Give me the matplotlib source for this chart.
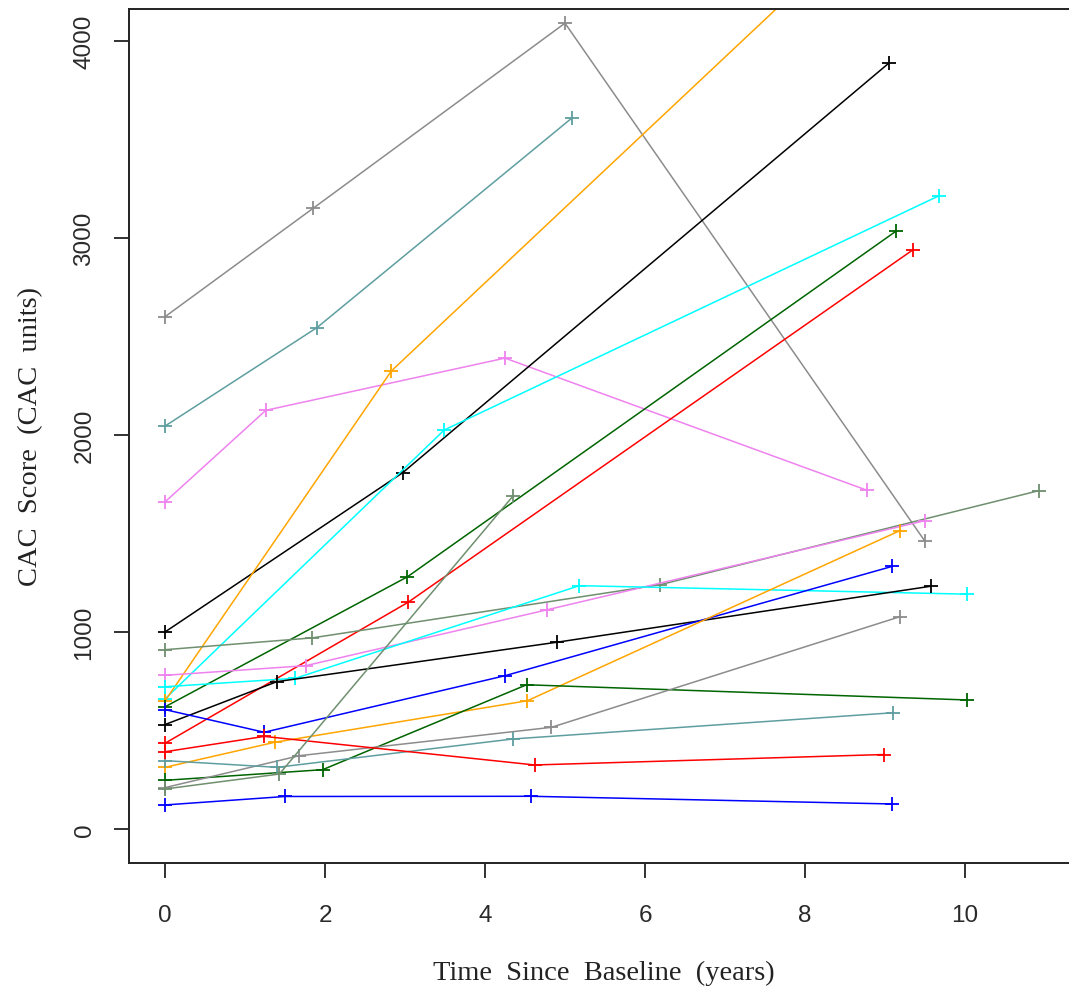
import matplotlib
matplotlib.use("Agg")
import matplotlib.pyplot as plt

# follow-up time (years) and CAC score for each subject
t01 = [0, 1.85, 5.0, 9.5]
c01 = [2600, 3150, 4090, 1460]
t02 = [0, 1.9, 5.09]
c02 = [2045, 2545, 3610]
t03 = [0, 1.26, 4.25, 8.77]
c03 = [1660, 2125, 2390, 1720]
t04 = [0, 2.97, 9.05]
c04 = [1000, 1808, 3888]
t05 = [0, 3.49, 9.68]
c05 = [660, 2025, 3215]
t06 = [0, 2.83, 9.1]
c06 = [650, 2325, 4720]
t07 = [0, 3.03, 9.14]
c07 = [620, 1280, 3035]
t08 = [0, 3.04, 9.35]
c08 = [435, 1151, 2940]
t09 = [0, 1.84, 6.19, 10.92]
c09 = [910, 970, 1240, 1717]
t10 = [0, 1.76, 4.77, 9.5]
c10 = [780, 829, 1112, 1565]
t11 = [0, 1.63, 5.18, 10.02]
c11 = [722, 765, 1235, 1192]
t12 = [0, 1.40, 4.9, 9.57]
c12 = [530, 748, 948, 1232]
t13 = [0, 1.24, 4.25, 9.09]
c13 = [606, 491, 778, 1333]
t14 = [0, 1.37, 4.53, 9.19]
c14 = [313, 440, 651, 1515]
t15 = [0, 1.97, 4.52, 10.02]
c15 = [247, 301, 732, 655]
t16 = [0, 1.68, 4.83, 9.19]
c16 = [210, 372, 516, 1078]
t17 = [0, 1.4, 4.35, 9.1]
c17 = [347, 313, 457, 590]
t18 = [0, 1.24, 4.62, 8.99]
c18 = [392, 470, 325, 378]
t19 = [0, 1.43, 4.35]
c19 = [203, 279, 1690]
t20 = [0, 1.5, 4.58, 9.09]
c20 = [122, 165, 166, 127]

times = [t01, t02, t03, t04, t05, t06, t07, t08, t09, t10,
         t11, t12, t13, t14, t15, t16, t17, t18, t19, t20]
scores = [c01, c02, c03, c04, c05, c06, c07, c08, c09, c10,
          c11, c12, c13, c14, c15, c16, c17, c18, c19, c20]
colours = ["#8c8c8c", "#5f9ea0", "#ee82ee", "black", "cyan", "orange", "#006400", "red", "#6f8f6f", "#ee82ee",
           "cyan", "black", "blue", "orange", "#006400", "#8c8c8c", "#5f9ea0", "red", "#6f8f6f", "blue"]

W, H = 1069, 1003
fig = plt.figure(figsize=(W / 100, H / 100), dpi=100)
# box: left 129px, top 10px, bottom 864px, right edge just past the image
ax = fig.add_axes([129 / W, (H - 864) / H, 944 / W, 854 / H])

for t, c, col in zip(times, scores, colours):
    ax.plot(t, c, color=col, lw=1.1, marker="+", ms=10, mew=1.3)

ax.set_xlim(-0.45, 11.35)
ax.set_ylim(-172.6, 4162)
ax.set_xticks([0, 2, 4, 6, 8, 10])
ax.set_yticks([0, 1000, 2000, 3000, 4000])
ax.tick_params(length=10.6, width=1.3, color="#222222", labelsize=17.5,
               labelcolor="#2a2a2a")
ax.tick_params(axis="x", pad=19)
ax.tick_params(axis="y", pad=13.5)
for lab in ax.get_xticklabels() + ax.get_yticklabels():
    lab.set_family(["Liberation Sans", "DejaVu Sans"])
for lab in ax.get_yticklabels():
    lab.set_rotation(90)
    lab.set_va("center")
for s in ax.spines.values():
    s.set_linewidth(1.4)
    s.set_color("#222222")

fig.text(604 / W, 1 - 973 / H, "Time  Since  Baseline  (years)", ha="center", va="center",
         fontsize=20.5, family="Liberation Serif", color="#222222")
fig.text(31 / W, 1 - 437 / H, "CAC  Score  (CAC  units)", ha="center", va="center",
         rotation=90, fontsize=20.5, family="Liberation Serif", color="#222222")

fig.savefig("out.png", dpi=100)
